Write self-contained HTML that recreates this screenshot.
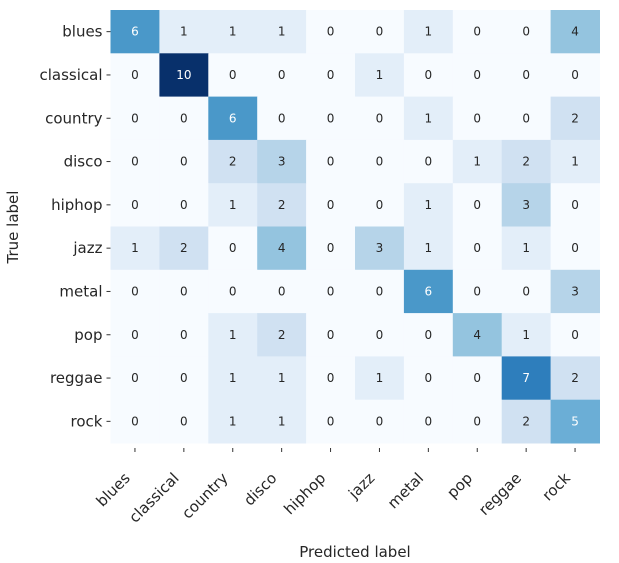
<!DOCTYPE html>
<html><head><meta charset="utf-8"><style>
body{margin:0;background:#fff;}
svg{display:block;font-family:"DejaVu Sans","Liberation Sans",sans-serif;}
</style></head><body>
<svg id="chart" width="619" height="563"></svg>
<script>
const labels=["blues","classical","country","disco","hiphop","jazz","metal","pop","reggae","rock"];
const row0=[6,1,1,1,0,0,1,0,0,4];
const row1=[0,10,0,0,0,1,0,0,0,0];
const row2=[0,0,6,0,0,0,1,0,0,2];
const row3=[0,0,2,3,0,0,0,1,2,1];
const row4=[0,0,1,2,0,0,1,0,3,0];
const row5=[1,2,0,4,0,3,1,0,1,0];
const row6=[0,0,0,0,0,0,6,0,0,3];
const row7=[0,0,1,2,0,0,0,4,1,0];
const row8=[0,0,1,1,0,1,0,0,7,2];
const row9=[0,0,1,1,0,0,0,0,2,5];
const matrix=[row0,row1,row2,row3,row4,row5,row6,row7,row8,row9];
const vmax=10;
const X0=110.5,Y0=10,W=489,H=433;
const cw=W/labels.length,ch=H/labels.length;
const xs=i=>X0+i*cw, ys=j=>Y0+j*ch;
const stops=["#f7fbff","#deebf7","#c6dbef","#9ecae1","#6baed6","#4292c6","#2171b5","#08519c","#08306b"];
function hex(h){return [1,3,5].map(i=>parseInt(h.substr(i,2),16));}
function color(v){let t=Math.max(0,Math.min(1,v/vmax))*(stops.length-1);let i=Math.min(Math.floor(t),stops.length-2);let f=t-i;let a=hex(stops[i]),b=hex(stops[i+1]);return "rgb("+a.map((c,k)=>Math.round(c+(b[k]-c)*f)).join(",")+")";}
const svg=document.getElementById('chart');const NS="http://www.w3.org/2000/svg";
function mk(tag,attrs,txt){const e=document.createElementNS(NS,tag);for(const k in attrs)e.setAttribute(k,attrs[k]);if(txt!==undefined)e.textContent=txt;svg.appendChild(e);return e;}
matrix.forEach((row,j)=>row.forEach((v,i)=>{
 const r=mk('rect',{x:xs(i),y:ys(j),width:cw+0.5,height:ch+0.5,fill:color(v)});
 
 
 const t=mk('text',{x:xs(i)+cw/2,y:ys(j)+ch/2+4,'text-anchor':'middle','font-size':'12',fill:v>=5?'#fff':'#262626'},v);
 
 
}));
labels.forEach((l,j)=>{
 mk('line',{x1:X0-4,x2:X0,y1:ys(j)+ch/2,y2:ys(j)+ch/2,stroke:'#333','stroke-width':1});
 const t=mk('text',{x:X0-8,y:ys(j)+ch/2+5,'text-anchor':'end','font-size':'15',fill:'#262626'},l);
 
 
});
labels.forEach((l,i)=>{
 const cx=xs(i)+cw/2;
 mk('line',{x1:cx,x2:cx,y1:Y0+H+5,y2:Y0+H+9,stroke:'#333','stroke-width':1});
 const ax=cx-4, ay=Y0+H+36;
 const t=mk('text',{x:ax,y:ay,'text-anchor':'end','font-size':'15',fill:'#262626',transform:'rotate(-45 '+ax+' '+ay+')'},l);
 
 
});
const xt=mk('text',{x:355,y:557,'text-anchor':'middle','font-size':'15',fill:'#262626'},'Predicted label');


const yt=mk('text',{x:18,y:227,'text-anchor':'middle','font-size':'15',fill:'#262626',transform:'rotate(-90 18 227)'},'True label');


</script>
</body></html>
